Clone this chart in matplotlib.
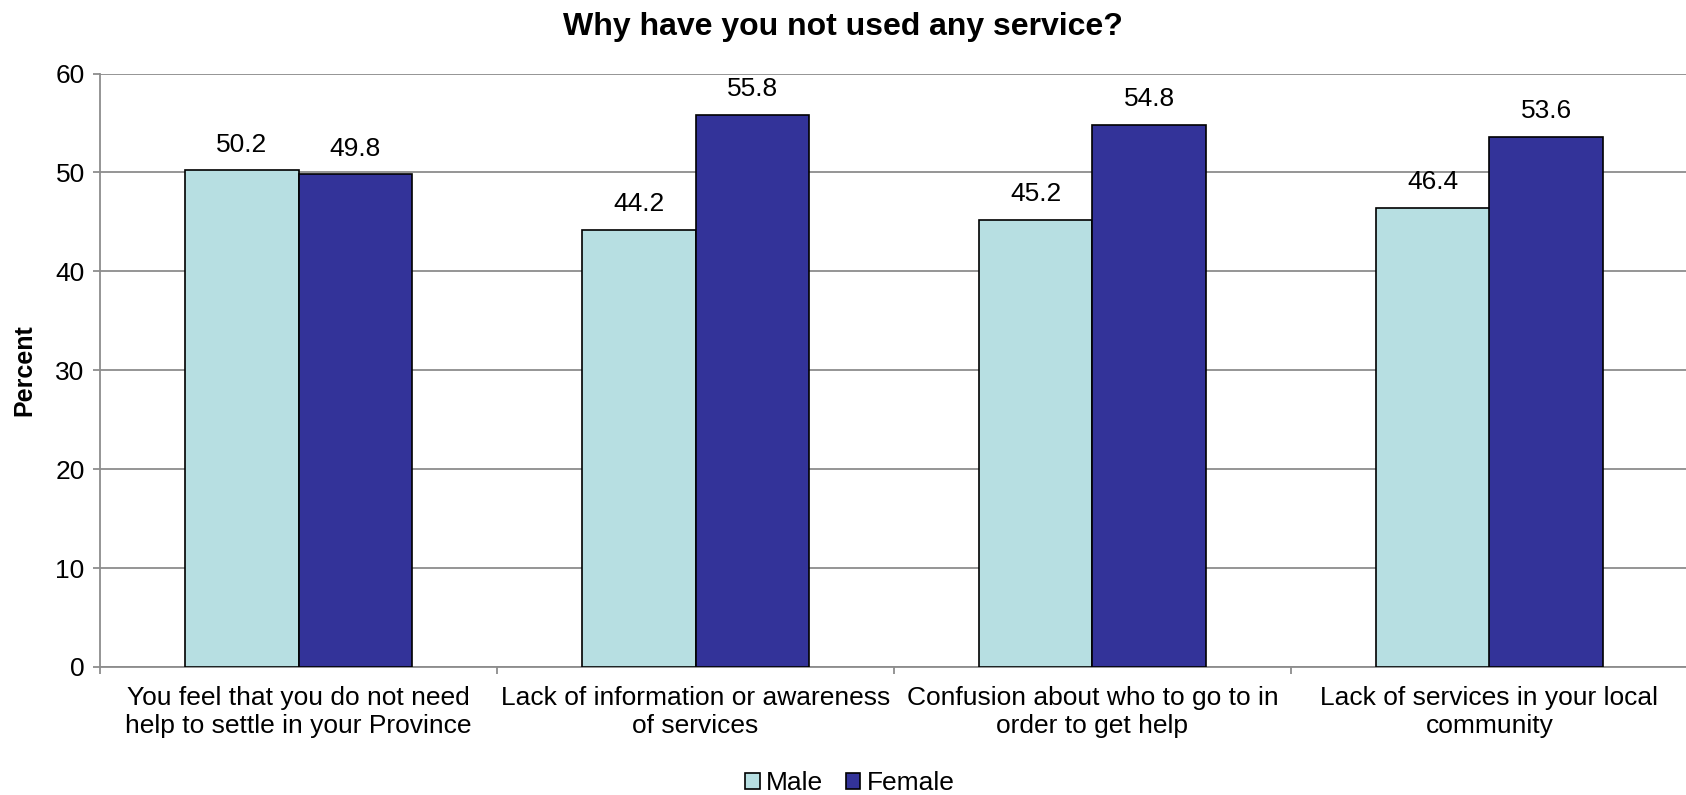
import numpy as np
import matplotlib.pyplot as plt

plt.rcParams['font.family'] = ['Liberation Sans', 'DejaVu Sans']

categories = ["You feel that you do not need\nhelp to settle in your Province",
              "Lack of information or awareness\nof services",
              "Confusion about who to go to in\norder to get help",
              "Lack of services in your local\ncommunity"]
male = [50.2, 44.2, 45.2, 46.4]
female = [49.8, 55.8, 54.8, 53.6]

fig = plt.figure(figsize=(16.86, 7.95), dpi=100)
ax = fig.add_axes([100 / 1686, 1 - 667 / 795, 1588 / 1686, (667 - 73.5) / 795])

x = np.arange(len(categories))
w = 0.286
b1 = ax.bar(x - w / 2, male, w, color='#B7DFE2', edgecolor='black', linewidth=1.2, label='Male', zorder=3)
b2 = ax.bar(x + w / 2, female, w, color='#333399', edgecolor='black', linewidth=1.2, label='Female', zorder=3)

for bars, vals in ((b1, male), (b2, female)):
    for r, v in zip(bars, vals):
        ax.text(r.get_x() + r.get_width() / 2, v + 1.4, f"{v:.1f}", ha='center', va='bottom', fontsize=19)

ax.set_xlim(-0.5, 3.5)
ax.set_ylim(0, 60)
ax.set_yticks(range(0, 61, 10))
ax.yaxis.grid(True, color='#8C8C8C', linewidth=1.3, zorder=0)
ax.set_xticks(np.arange(-0.5, 3.6, 1), minor=False)
ax.set_xticklabels([])
ax.set_xticks(x, minor=True)
ax.set_xticklabels(categories, minor=True, fontsize=19)
ax.tick_params(axis='x', which='minor', length=0, pad=14)
ax.tick_params(axis='x', which='major', length=5, color='#8C8C8C', width=1.3)
ax.tick_params(axis='y', length=5, color='#8C8C8C', width=1.3, labelsize=19, pad=6)
for s in ('top', 'right'):
    ax.spines[s].set_visible(False)
for s in ('left', 'bottom'):
    ax.spines[s].set_color('#8C8C8C')
    ax.spines[s].set_linewidth(1.3)

ax.set_ylabel('Percent', fontsize=18, fontweight='bold', labelpad=14)
fig.suptitle('Why have you not used any service?', fontsize=23, fontweight='bold', x=0.5, y=0.985)

fig.legend(loc='center', bbox_to_anchor=(850 / 1686, 1 - 783 / 795), ncol=2, frameon=False,
           fontsize=19, handlelength=0.55, handleheight=0.55, handletextpad=0.25, columnspacing=0.85)

fig.savefig('out.png', dpi=100)
